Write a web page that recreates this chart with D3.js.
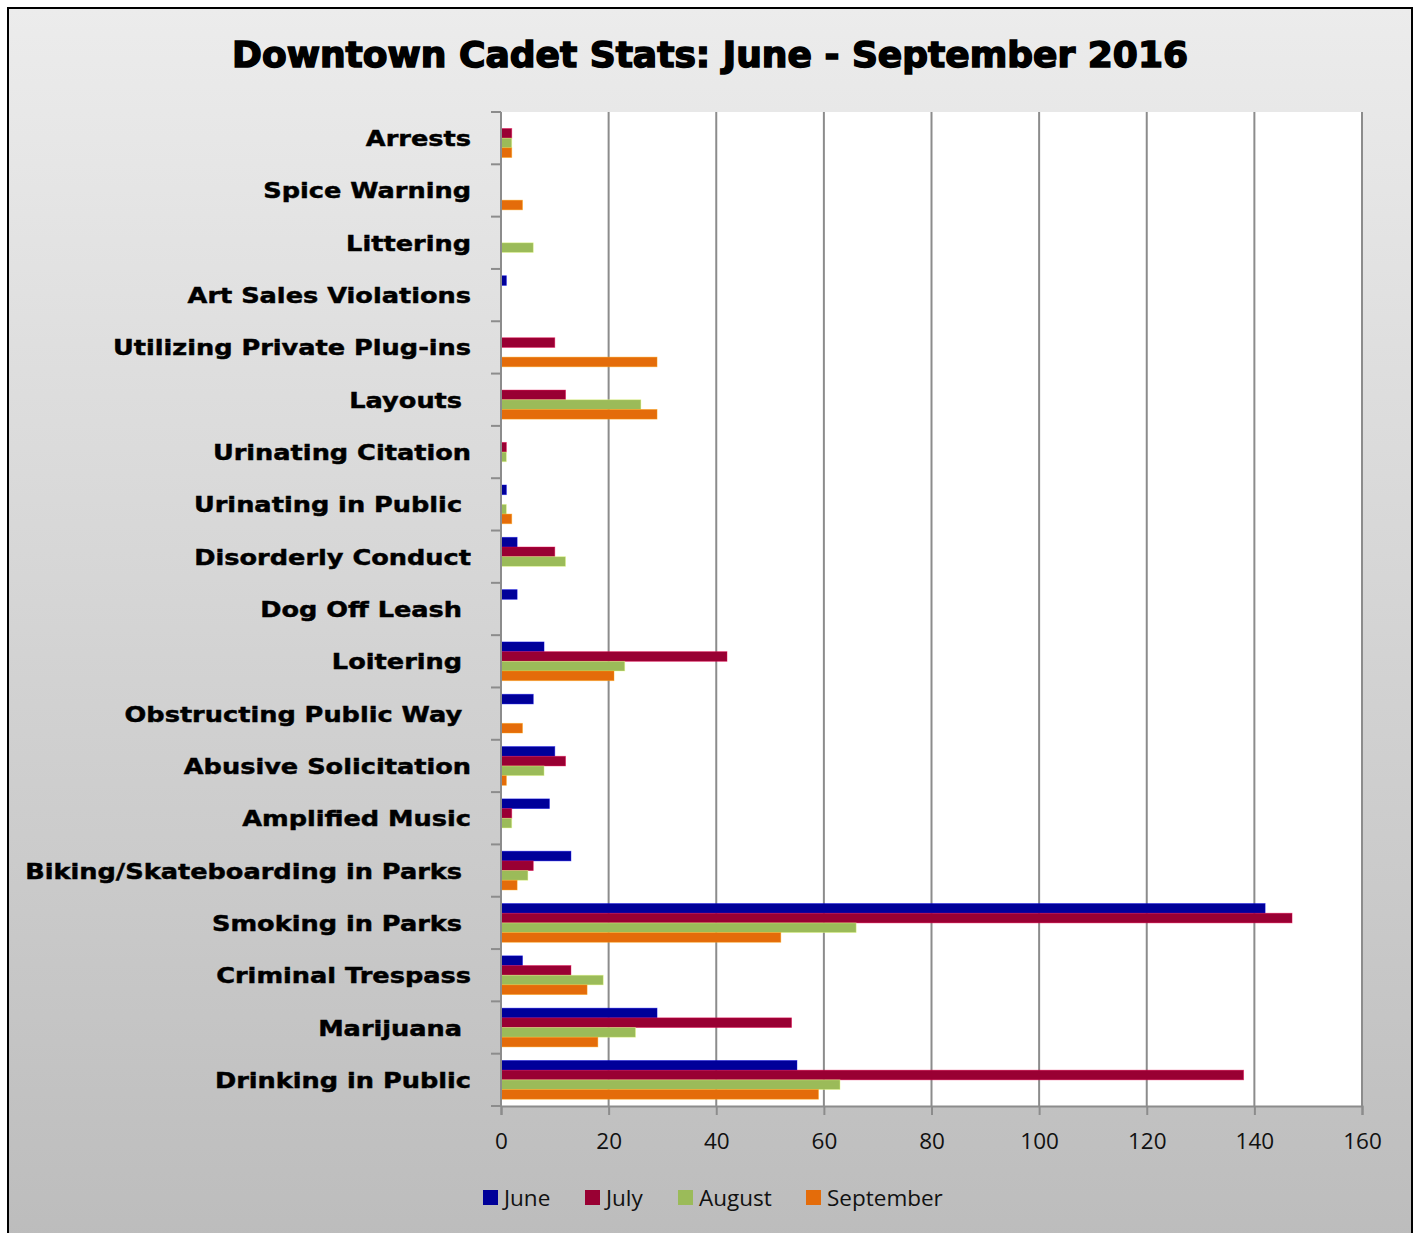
<!DOCTYPE html>
<html>
<head>
<meta charset="utf-8">
<script src="https://cdn.jsdelivr.net/npm/d3@7"></script>
<style>
  body { margin: 0; background: #fff; }
  svg text.cat { white-space: pre; }
</style>
</head>
<body>
<div id="chart"></div>
<script>
const width = 1419
const height = 1233
const margin = { top: 112, bottom: 127, left: 501, right: 57 }

// data
const categories = [
  "Arrests", "Spice Warning", "Littering", "Art Sales Violations",
  "Utilizing Private Plug-ins", "Layouts ", "Urinating Citation",
  "Urinating in Public ", "Disorderly Conduct", "Dog Off Leash ",
  "Loitering ", "Obstructing Public Way ", "Abusive Solicitation",
  "Amplified Music", "Biking/Skateboarding in Parks ", "Smoking in Parks ",
  "Criminal Trespass", "Marijuana ", "Drinking in Public"
]
const months = ["June", "July", "August", "September"]
const june      = [0, 0, 0, 1, 0, 0, 0, 1, 3, 3, 8, 6, 10, 9, 13, 142, 4, 29, 55]
const july      = [2, 0, 0, 0, 10, 12, 1, 0, 10, 0, 42, 0, 12, 2, 6, 147, 13, 54, 138]
const august    = [2, 0, 6, 0, 0, 26, 1, 1, 12, 0, 23, 0, 8, 2, 5, 66, 19, 25, 63]
const september = [2, 4, 0, 0, 29, 29, 0, 2, 0, 0, 21, 4, 1, 0, 3, 52, 16, 18, 59]
const xTicks = [0, 20, 40, 60, 80, 100, 120, 140, 160]
const colors = ["#000099", "#990033", "#9bbb59", "#e46c0a"]

const series = [june, july, august, september]
const rows = []
categories.forEach((c, i) => {
    months.forEach((m, j) => rows.push({ cat: c, month: m, value: series[j][i] }))
})

let svg = d3.select("#chart").append("svg")
    .attr("width", width)
    .attr("height", height)

// chart area background
let defs = svg.append("defs")
let grad = defs.append("linearGradient").attr("id", "bg")
    .attr("x1", 0).attr("y1", 0).attr("x2", 0).attr("y2", 1)
grad.append("stop").attr("offset", "0%").attr("stop-color", "#ececec")
grad.append("stop").attr("offset", "100%").attr("stop-color", "#bcbcbc")

svg.append("rect")
    .attr("x", 8).attr("y", 8)
    .attr("width", 1404).attr("height", 1240)
    .attr("fill", "url(#bg)")
    .attr("stroke", "#000")
    .attr("stroke-width", 2)

// title
svg.append("text")
    .attr("x", 710)
    .attr("y", 67)
    .attr("text-anchor", "middle")
    .attr("font-family", "DejaVu Sans")
    .attr("font-weight", "bold")
    .attr("font-size", "35px")
    .attr("stroke", "#000")
    .attr("stroke-width", 1.5)
    .attr("textLength", 956)
    .attr("lengthAdjust", "spacingAndGlyphs")
    .text("Downtown Cadet Stats: June - September 2016")

let xScale = d3.scaleLinear().domain([0, 160]).range([margin.left, margin.left + 861])
let yScale = d3.scaleBand().domain(categories).range([margin.top, 1106]).padding(0)
let inner = d3.scaleBand().domain(months).range([0, yScale.bandwidth()]).paddingOuter(0.7).paddingInner(0)

// plot area
svg.append("rect")
    .attr("x", xScale(0))
    .attr("y", margin.top)
    .attr("width", xScale(160) - xScale(0))
    .attr("height", 1106 - margin.top)
    .attr("fill", "#fff")

// gridlines
svg.append("g")
    .selectAll("line")
    .data(xTicks.slice(1))
    .join("line")
    .attr("x1", d => xScale(d)).attr("x2", d => xScale(d))
    .attr("y1", margin.top).attr("y2", 1106)
    .attr("stroke", "#8c8c8c")
    .attr("stroke-width", 2)

// bars
svg.append("g")
    .selectAll("rect")
    .data(rows)
    .join("rect")
    .attr("x", xScale(0))
    .attr("y", d => yScale(d.cat) + inner(d.month))
    .attr("width", d => xScale(d.value) - xScale(0))
    .attr("height", inner.bandwidth())
    .attr("fill", d => colors[months.indexOf(d.month)])
    .attr("stroke", d => d3.color(colors[months.indexOf(d.month)]).brighter(1.2))
    .attr("stroke-opacity", 0.5)
    .attr("stroke-width", 0.8)

// x axis
let xAxis = d3.axisBottom(xScale).tickValues(xTicks).tickSize(9).tickPadding(18)
let xAxisG = svg.append("g")
    .attr("transform", "translate(0,1106)")
    .call(xAxis)
xAxisG.select(".domain").attr("stroke", "#8c8c8c").attr("stroke-width", 2)
xAxisG.selectAll(".tick line").attr("stroke", "#8c8c8c").attr("stroke-width", 2)
xAxisG.selectAll(".tick text")
    .attr("font-family", "Open Sans")
    .attr("font-size", "22.5px")
    .attr("fill", "#111")

// y axis (category separators)
let yEdges = categories.map(c => yScale(c)).concat([1106])
let yAxisG = svg.append("g")
yAxisG.append("line")
    .attr("x1", xScale(0)).attr("x2", xScale(0))
    .attr("y1", margin.top).attr("y2", 1106)
    .attr("stroke", "#8c8c8c").attr("stroke-width", 2)
yAxisG.selectAll(".sep")
    .data(yEdges)
    .join("line")
    .attr("class", "sep")
    .attr("x1", xScale(0) - 10).attr("x2", xScale(0))
    .attr("y1", d => d).attr("y2", d => d)
    .attr("stroke", "#8c8c8c").attr("stroke-width", 2)

// category labels
svg.append("g")
    .selectAll("g")
    .data(categories)
    .join("g")
    .attr("transform", d => `translate(471,${yScale(d) + yScale.bandwidth() / 2 + 8}) scale(1.22,1)`)
    .append("text")
    .attr("class", "cat")
    .attr("text-anchor", "end")
    .attr("font-family", "DejaVu Sans")
    .attr("font-weight", "bold")
    .attr("font-size", "21px")
    .attr("stroke", "#000")
    .attr("stroke-width", 0.45)
    .text(d => d)

// legend
const legendX = [483, 585, 678, 806]
let legend = svg.append("g")
let entries = legend.selectAll("g")
    .data(months)
    .join("g")
    .attr("transform", (d, i) => `translate(${legendX[i]},1190)`)
entries.append("rect")
    .attr("width", 15).attr("height", 15)
    .attr("fill", (d, i) => colors[i])
entries.append("text")
    .attr("x", 21)
    .attr("y", 16)
    .attr("font-family", "Open Sans")
    .attr("font-size", "22.5px")
    .attr("fill", "#111")
    .text(d => d)
</script>
</body>
</html>
